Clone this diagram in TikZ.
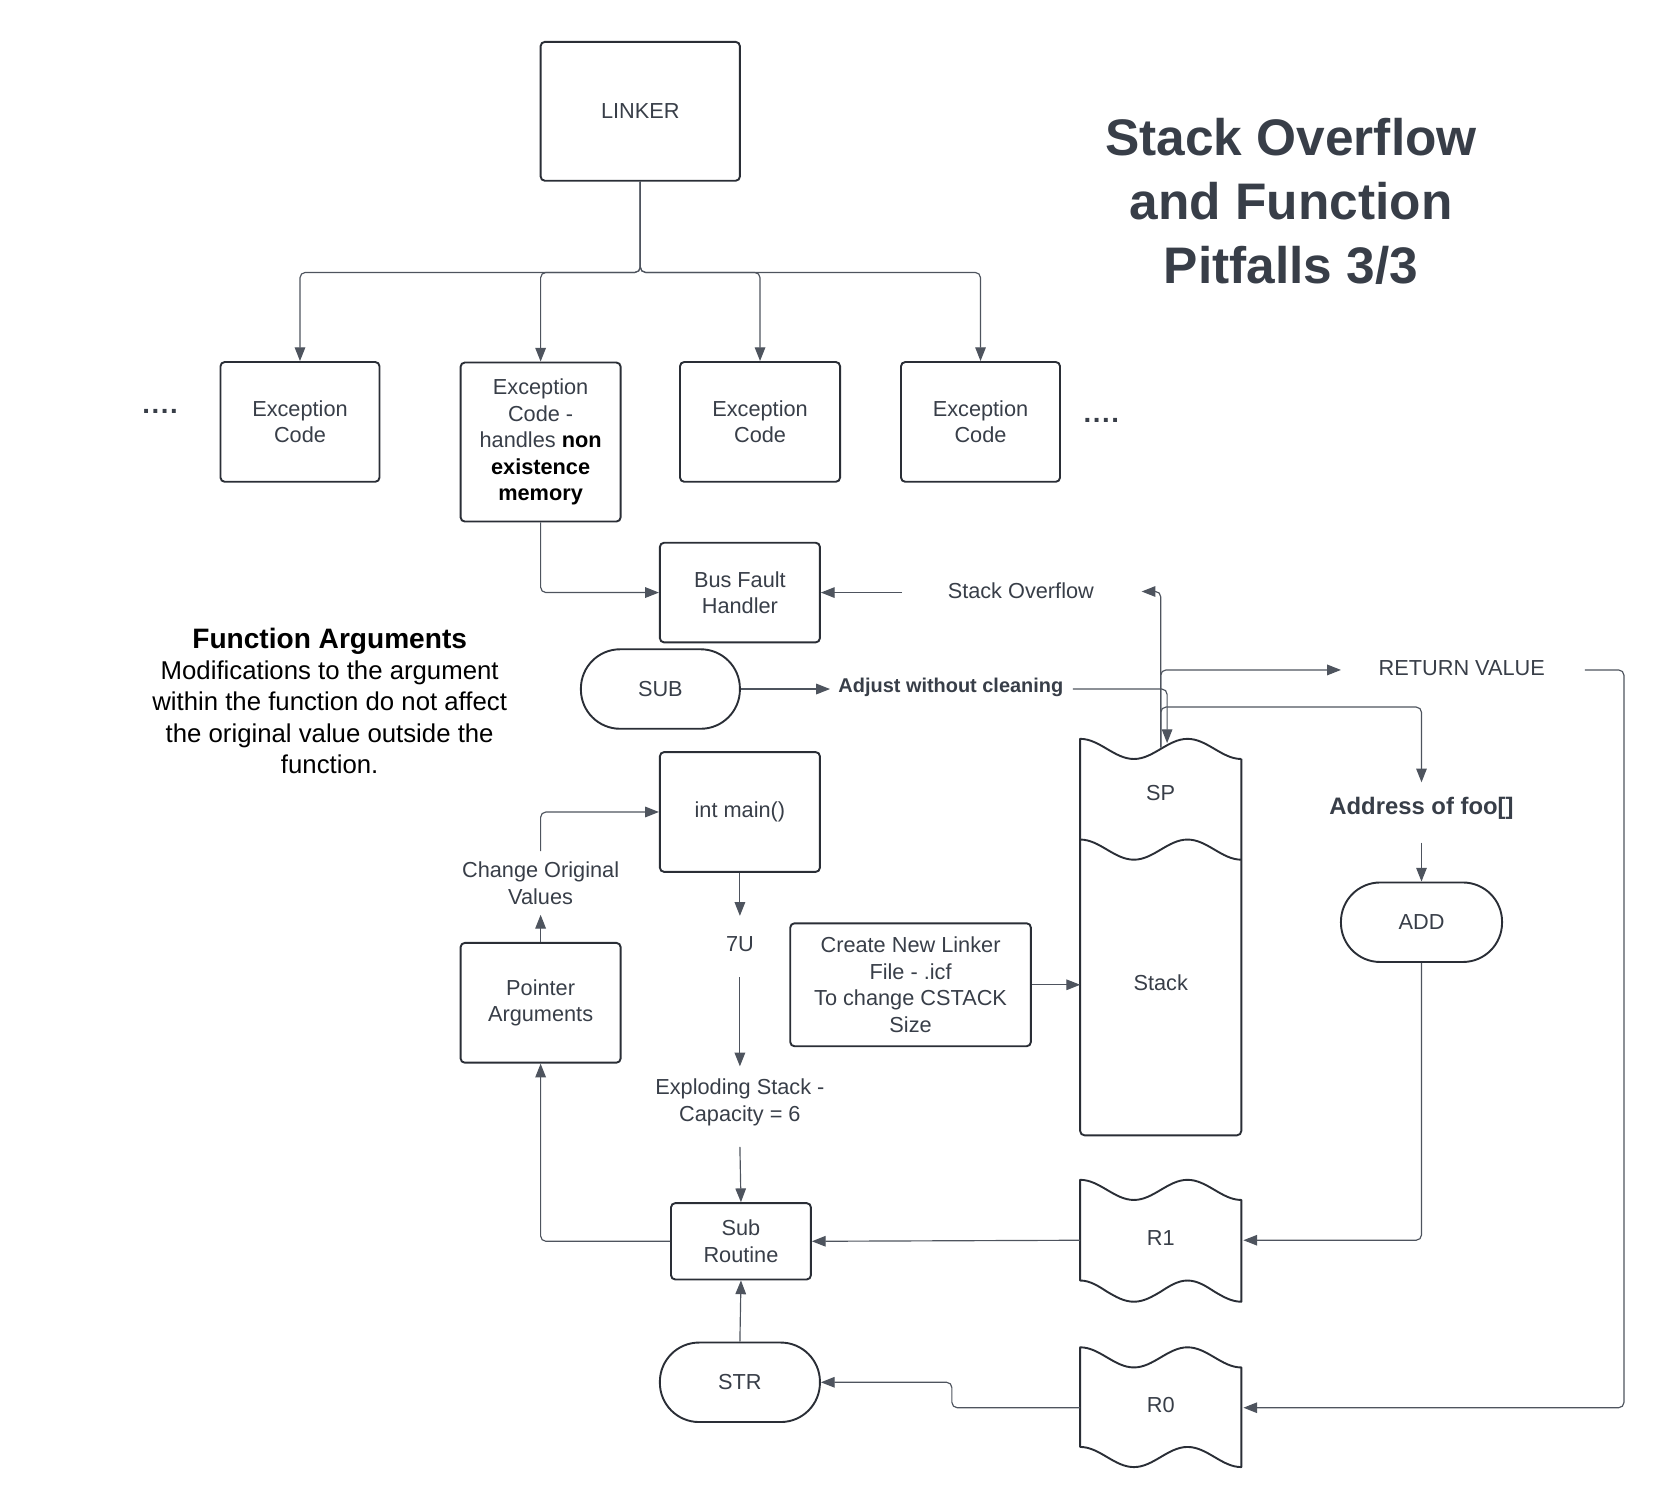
\documentclass[tikz,border=0pt]{standalone}
\usepackage{fontspec}
\setmainfont{Liberation Sans}
\usetikzlibrary{arrows.meta,calc}
\definecolor{txtc}{RGB}{56,62,72}
\definecolor{boxc}{RGB}{42,46,54}
\definecolor{linec}{RGB}{78,84,94}
\newcommand\nf{\fontsize{20.5}{25}\selectfont}
\newcommand\bk[1]{\textcolor{black}{\textbf{#1}}}
\begin{document}
\begin{tikzpicture}[x=1pt,y=-1pt,
  box/.style={draw=boxc, line width=1.8pt, rounded corners=4pt, text=txtc, align=center, font=\nf, inner sep=0pt},
  term/.style={box, rounded corners=37pt},
  lbl/.style={text=txtc, align=center, font=\nf, inner sep=1pt},
  shp/.style={draw=boxc, line width=1.8pt, line join=round},
  conn/.style={draw=linec, line width=1.1pt, rounded corners=5pt},
  arr/.style={conn, -{Triangle[length=13pt,width=10pt]}, fill=none},
]
\useasboundingbox (0,0) rectangle (1566,1422);

% ---------- title ----------
\node[text=txtc, align=center, font=\fontsize{48.5}{60}\selectfont\bfseries] (title) at (1218,190) {Stack Overflow\\and Function\\Pitfalls 3/3};

% ---------- top ----------
\node[box, minimum width=188pt, minimum height=131pt] (linker) at (604,105) {LINKER};
\node[box, minimum width=150pt, minimum height=113pt] (ec1) at (283,398) {Exception\\Code};
\node[box, minimum width=151pt, minimum height=150pt] (ec2) at (510,417) {Exception\\Code -\\handles \bk{non}\\\bk{existence}\\\bk{memory}};
\node[box, minimum width=151pt, minimum height=113pt] (ec3) at (717,398) {Exception\\Code};
\node[box, minimum width=150pt, minimum height=113pt] (ec4) at (925,398) {Exception\\Code};
\node[lbl, font=\fontsize{26}{25}\selectfont\bfseries] (dotsl) at (151,388) {.\hspace{1.5pt}.\hspace{1.5pt}.\hspace{1.5pt}.};
\node[lbl, font=\fontsize{26}{25}\selectfont\bfseries] (dotsr) at (1039,397) {.\hspace{1.5pt}.\hspace{1.5pt}.\hspace{1.5pt}.};

\coordinate (hub) at (604,257);
\draw[arr] (linker.south) -- (hub) -| (ec1.north);
\draw[arr] (linker.south) -- (hub) -| (ec2.north);
\draw[arr] (linker.south) -- (hub) -| (ec3.north);
\draw[arr] (linker.south) -- (hub) -| (ec4.north);

% ---------- middle ----------
\node[box, minimum width=151pt, minimum height=94pt] (bfh) at (698,559) {Bus Fault\\Handler};
\node[lbl] (so) at (963,557) {Stack Overflow};
\node[term, minimum width=150pt, minimum height=75pt] (sub) at (623,650) {SUB};
\node[lbl, font=\fontsize{18.8}{23}\selectfont\bfseries] (adj) at (897,648) {Adjust without cleaning};
\node[lbl] (rv) at (1379,630) {RETURN VALUE};
\node[lbl, font=\fontsize{22.5}{26}\selectfont\bfseries] (addr) at (1341,763) {Address of foo[]};
\node[term, minimum width=152pt, minimum height=75pt] (add) at (1341,870) {ADD};

\node[text=black, align=center, font=\fontsize{24.3}{29.5}\selectfont] (fa) at (311,661)
 {{\fontsize{26.5}{30}\selectfont\textbf{Function Arguments}}\\Modifications to the argument\\within the function do not affect\\the original value outside the\\function.};

\node[box, minimum width=151pt, minimum height=113pt] (intmain) at (698,766) {int main()};
\node[lbl] (chg) at (510,833) {Change Original\\Values};
\node[box, minimum width=151pt, minimum height=113pt] (ptr) at (510,946) {Pointer\\Arguments};
\node[lbl] (u7) at (698,891) {7U};
\node[box, minimum width=227pt, minimum height=116pt] (create) at (859,929) {Create New Linker\\File - .icf\\To change CSTACK\\Size};
\node[lbl] (expl) at (698,1040) {Exploding Stack -\\Capacity = 6};
\node[box, minimum width=132pt, minimum height=72pt] (subr) at (699,1171) {Sub\\Routine};
\node[term, minimum width=151pt, minimum height=75pt] (str) at (698,1304) {STR};

% ---------- stack (SP / Stack) ----------
\draw[shp] (1171,716) [rounded corners=4pt] -- (1171,1071) -- (1019,1071) [sharp corners] -- (1019,697)
  cos (1044.3,706.5) sin (1069.7,716) cos (1095,706.5) sin (1120.3,697) cos (1145.7,706.5) sin (1171,716);
\draw[shp] (1019,792) cos (1044.3,801.5) sin (1069.7,811) cos (1095,801.5) sin (1120.3,792) cos (1145.7,801.5) sin (1171,811);
\node[lbl] (sp) at (1095,748) {SP};
\node[lbl] (stack) at (1095,927) {Stack};

% R1
\draw[shp] (1019,1113) cos (1044.3,1122.5) sin (1069.7,1132) cos (1095,1122.5) sin (1120.3,1113) cos (1145.7,1122.5) sin (1171,1132)
  -- (1171,1228) cos (1145.7,1218.5) sin (1120.3,1208) cos (1095,1218.5) sin (1069.7,1228) cos (1044.3,1218.5) sin (1019,1208) -- cycle;
\node[lbl] (r1) at (1095,1168) {R1};
% R0
\draw[shp] (1019,1271) cos (1044.3,1280.5) sin (1069.7,1290) cos (1095,1280.5) sin (1120.3,1271) cos (1145.7,1280.5) sin (1171,1290)
  -- (1171,1384) cos (1145.7,1374.5) sin (1120.3,1365) cos (1095,1374.5) sin (1069.7,1384) cos (1044.3,1374.5) sin (1019,1365) -- cycle;
\node[lbl] (r0) at (1095,1325) {R0};

% ---------- named connection points ----------
\coordinate (soL) at (851,559);
\coordinate (soR) at (1077,558);
\coordinate (spTop) at (1095,705);
\coordinate (spIn) at (1101,701);
\coordinate (adjL) at (783,650);
\coordinate (adjR) at (1012,650);
\coordinate (rvL) at (1265,632);
\coordinate (rvR) at (1495,632);
\coordinate (addrJ) at (1095,667);
\coordinate (addrT) at (1341,738);
\coordinate (addrB) at (1341,795);
\coordinate (stackW) at (1019,929);
\coordinate (r1W) at (1019,1170);
\coordinate (r1E) at (1173,1170);
\coordinate (r0W) at (1019,1328);
\coordinate (r0E) at (1173,1328);
\coordinate (r0J) at (898,1328);
\coordinate (u7T) at (698,864);
\coordinate (u7B) at (698,922);
\coordinate (explT) at (698,1006);
\coordinate (explB) at (698,1082);
\coordinate (chgB) at (510,863);
\coordinate (chgT) at (510,803);

% ---------- connectors ----------
\draw[arr] (ec2.south) |- (bfh.west);
\draw[arr] (soL) -- (bfh.east);
\draw[arr] (spTop) |- (soR);
\draw[arr] (sub.east) -- (adjL);
\draw[arr] (adjR) -| (spIn);
\draw[arr] (spTop) |- (rvL);
\draw[arr] (rvR) -- ++(37,0) |- (r0E);
\draw[arr] (spTop) -- (addrJ) -| (addrT);
\draw[arr] (addrB) -- (add.north);
\draw[arr] (add.south) |- (r1E);
\draw[arr] (create.east) -- (stackW);
\draw[arr] (intmain.south) -- (u7T);
\draw[arr] (u7B) -- (explT);
\draw[arr] (explB) -- (subr.north);
\draw[arr] (str.north) -- (subr.south);
\draw[arr] (r1W) -- (subr.east);
\draw[arr] (r0W) -- (r0J) |- (str.east);
\draw[arr] (subr.west) -| (ptr.south);
\draw[arr] (ptr.north) -- (chgB);
\draw[arr] (chgT) |- (intmain.west);
\end{tikzpicture}
\end{document}
